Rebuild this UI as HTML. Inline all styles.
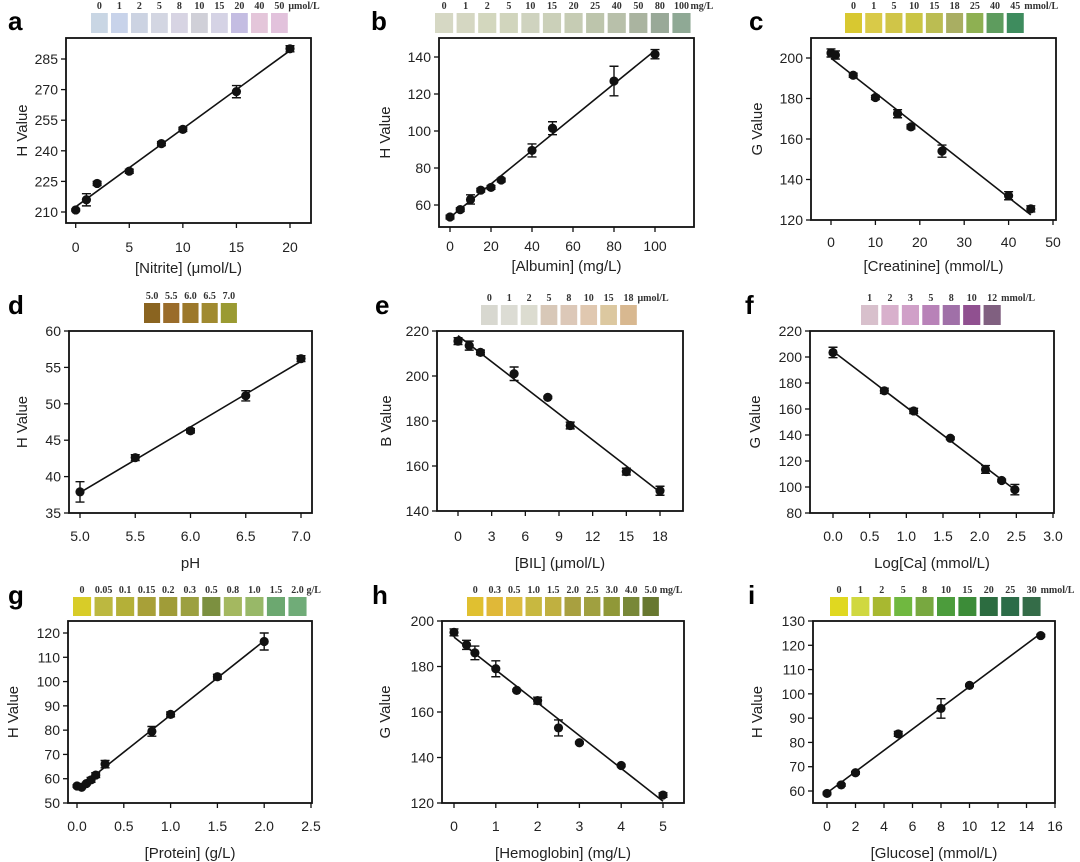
<!DOCTYPE html>
<html><head><meta charset="utf-8"><style>
html,body{margin:0;padding:0;background:#fff;}
svg{display:block;font-family:"Liberation Sans",Arial,sans-serif;}
.tk{font-size:14px;fill:#222;}
.tt{font-size:15px;fill:#222;}
.lt{font-size:26px;font-weight:bold;fill:#000;}
.sl{font-family:"Liberation Serif",serif;font-size:10px;font-weight:bold;fill:#333;}
</style></head><body>
<svg id="fig" width="1080" height="862" viewBox="0 0 1080 862"></svg>
<script>
// ---- data ----
const aX=[0,1,2,5,8,10,15,20];
const aY=[211,216,224,230,243.5,250.5,269,290];
const aE=[0.5,3,1,1,1,1,3,1.5];
const aXT=[0,5,10,15,20];
const aYT=[210,225,240,255,270,285];
const aStrip=["0","1","2","5","8","10","15","20","40","50"];

const bX=[0,5,10,15,20,25,40,50,80,100];
const bY=[53.5,57.5,63,68,69.5,73.5,89.5,101.5,127,141.5];
const bE=[1,1,2.5,1,1,1,3.5,3.5,8,2.5];
const bXT=[0,20,40,60,80,100];
const bYT=[60,80,100,120,140];
const bStrip=["0","1","2","5","10","15","20","25","40","50","80","100"];

const cX=[0,1,5,10,15,18,25,40,45];
const cY=[202.5,201.5,191.5,180.5,172.5,166,154,132,125.5];
const cE=[2,2,1,1,2,1,3,2,1.5];
const cXT=[0,10,20,30,40,50];
const cYT=[120,140,160,180,200];
const cStrip=["0","1","5","10","15","18","25","40","45"];

const dX=[5,5.5,6,6.5,7];
const dY=[37.9,42.6,46.3,51.1,56.2];
const dE=[1.4,0.4,0.3,0.7,0.4];
const dXT=[5,5.5,6,6.5,7];
const dYT=[35,40,45,50,55,60];
const dStrip=["5.0","5.5","6.0","6.5","7.0"];

const eX=[0,1,2,5,8,10,15,18];
const eY=[215.5,213.5,210.5,201,190.5,178,157.5,149];
const eE=[1.5,2,1,3,0.5,1.5,1.5,2];
const eXT=[0,3,6,9,12,15,18];
const eYT=[140,160,180,200,220];
const eStrip=["0","1","2","5","8","10","15","18"];

const fX=[0,0.7,1.1,1.6,2.08,2.3,2.48];
const fY=[203.5,174,158.5,137.5,113.5,105,98];
const fE=[4,2,2,1,3,1,4];
const fXT=[0,0.5,1,1.5,2,2.5,3];
const fYT=[80,100,120,140,160,180,200,220];
const fStrip=["1","2","3","5","8","10","12"];

const gX=[0,0.05,0.1,0.15,0.2,0.3,0.8,1.0,1.5,2.0];
const gY=[57,56.5,58,59.5,61.5,66,79.5,86.5,102,116.5];
const gE=[0.5,0.5,0.5,1,1,1.5,2,1,1,3.5];
const gXT=[0,0.5,1,1.5,2,2.5];
const gYT=[50,60,70,80,90,100,110,120];
const gStrip=["0","0.05","0.1","0.15","0.2","0.3","0.5","0.8","1.0","1.5","2.0"];

const hX=[0,0.3,0.5,1,1.5,2,2.5,3,4,5];
const hY=[195,189.5,186,179,169.5,165,153,146.5,136.5,123.5];
const hE=[1.5,2,3,3.5,0.5,1.5,3.5,0.5,0.5,1];
const hXT=[0,1,2,3,4,5];
const hYT=[120,140,160,180,200];
const hStrip=["0","0.3","0.5","1.0","1.5","2.0","2.5","3.0","4.0","5.0"];

const iX=[0,1,2,5,8,10,15];
const iY=[59,62.5,67.5,83.5,94,103.5,124];
const iE=[0.5,0.5,0.5,1,4,0.5,0.5];
const iXT=[0,2,4,6,8,10,12,14,16];
const iYT=[60,70,80,90,100,110,120,130];
const iStrip=["0","1","2","5","8","10","15","20","25","30"];

// ---- layout ----
const NS="http://www.w3.org/2000/svg";
const svg=document.getElementById('fig');
function mk(tag,attrs,parent){const e=document.createElementNS(NS,tag);for(const k in attrs)e.setAttribute(k,attrs[k]);(parent||svg).appendChild(e);return e;}

const panels=[
 {id:'a',X:aX,Y:aY,E:aE,XT:aXT,YT:aYT,xf:v=>String(v),yf:v=>String(v),box:[66,38,311,223],xd:[0,75.7,20,290],yd:[210,212,285,59],
  xt:'[Nitrite] (\u03bcmol/L)',yt:'H Value',xl:252,xtt:273,ytx:22,lx:8,ly:30,
  strip:aStrip,unit:'\u03bcmol/L',sx0:91,sx1:291,sy:13,sh:20,
  cols:['#c9d6e4','#c8d3ea','#ccd3e2','#d3d6e2','#d7d4e3','#d0d0d8','#d5d3e5','#c4bde2','#e4c6da','#e2c2dc']},
 {id:'b',X:bX,Y:bY,E:bE,XT:bXT,YT:bYT,xf:v=>String(v),yf:v=>String(v),box:[439,38,694,227],xd:[0,450,100,655],yd:[60,205,140,57],
  xt:'[Albumin] (mg/L)',yt:'H Value',xl:251,xtt:271,ytx:385,lx:371,ly:30,
  strip:bStrip,unit:'mg/L',sx0:435,sx1:694,sy:13,sh:20,
  cols:['#d6d8c4','#d5d7c2','#d3d7be','#d1d5bd','#cfd3bf','#cbd0b9','#c6ccb4','#bdc5ac','#b8c0aa','#aab4a0','#99a998','#8fa995']},
 {id:'c',X:cX,Y:cY,E:cE,XT:cXT,YT:cYT,xf:v=>String(v),yf:v=>String(v),box:[811,38,1056,220],xd:[0,831,50,1053],yd:[120,220,200,58],
  xt:'[Creatinine] (mmol/L)',yt:'G Value',xl:247,xtt:271,ytx:757,lx:749,ly:30,
  strip:cStrip,unit:'mmol/L',sx0:845,sx1:1027,sy:13,sh:20,
  cols:['#d8c830','#d9ca48','#d0c548','#cac544','#bbbd52','#a9ae62','#8eb052','#5e9c5e','#3e8c5e']},
 {id:'d',X:dX,Y:dY,E:dE,XT:dXT,YT:dYT,xf:v=>v.toFixed(1),yf:v=>String(v),box:[69,331,312,513],xd:[5,80,7,301],yd:[35,513,60,331],
  xt:'pH',yt:'H Value',xl:541,xtt:568,ytx:22,lx:8,ly:314,
  strip:dStrip,unit:'',sx0:144,sx1:240,sy:303,sh:20,
  cols:['#8a6420','#9a6c2a','#9c782a','#a08a30','#9a9a32']},
 {id:'e',X:eX,Y:eY,E:eE,XT:eXT,YT:eYT,xf:v=>String(v),yf:v=>String(v),box:[437,331,683,511],xd:[0,458,18,660],yd:[140,511,220,331],
  xt:'[BIL] (\u03bcmol/L)',yt:'B Value',xl:541,xtt:568,ytx:386,lx:375,ly:314,
  strip:eStrip,unit:'\u03bcmol/L',sx0:481,sx1:640,sy:305,sh:20,
  cols:['#d8d8d0','#dcdcd4','#dcdcd0','#d8c8b8','#dcc8b8','#e0c8b0','#dcc8a0','#d8b890']},
 {id:'f',X:fX,Y:fY,E:fE,XT:fXT,YT:fYT,xf:v=>v.toFixed(1),yf:v=>String(v),box:[810,331,1054,513],xd:[0,833,3,1053],yd:[80,513,220,331],
  xt:'Log[Ca] (mmol/L)',yt:'G Value',xl:541,xtt:568,ytx:755,lx:745,ly:314,
  strip:fStrip,unit:'mmol/L',sx0:861,sx1:1004,sy:305,sh:20,
  cols:['#d8c0cc','#d8b0cc','#d0a0c8','#b882b8','#a070a8','#905090','#806080']},
 {id:'g',X:gX,Y:gY,E:gE,XT:gXT,YT:gYT,xf:v=>v.toFixed(1),yf:v=>String(v),box:[68,621,312,803],xd:[0,77,2.5,311],yd:[50,803,120,633],
  xt:'[Protein] (g/L)',yt:'H Value',xl:831,xtt:858,ytx:13,lx:8,ly:604,
  strip:gStrip,unit:'g/L',sx0:73,sx1:310,sy:597,sh:19,
  cols:['#d8cc28','#bcb840','#b4b038','#a8a038','#a09c38','#9ca040','#7c9040','#a4b860','#98b868','#6ca870','#70ac78']},
 {id:'h',X:hX,Y:hY,E:hE,XT:hXT,YT:hYT,xf:v=>String(v),yf:v=>String(v),box:[442,621,684,803],xd:[0,454,5,663],yd:[120,803,200,621],
  xt:'[Hemoglobin] (mg/L)',yt:'G Value',xl:831,xtt:858,ytx:385,lx:372,ly:604,
  strip:hStrip,unit:'mg/L',sx0:467,sx1:662,sy:597,sh:19,
  cols:['#e0c030','#e0b838','#dcbc40','#c8b840','#c0b040','#a8a040','#a0a040','#909838','#788838','#687830']},
 {id:'i',X:iX,Y:iY,E:iE,XT:iXT,YT:iYT,xf:v=>String(v),yf:v=>String(v),box:[813,621,1055,803],xd:[0,827,16,1055],yd:[60,791,130,621],
  xt:'[Glucose] (mmol/L)',yt:'H Value',xl:831,xtt:858,ytx:757,lx:748,ly:604,
  strip:iStrip,unit:'mmol/L',sx0:830,sx1:1044,sy:597,sh:19,
  cols:['#e0d820','#d0d840','#a8b830','#70b840','#78a840','#4c9c3c','#3c8c38','#2c6c40','#2c6c48','#346c48']}
];

panels.forEach(p=>{
  const g=mk('g',{});
  
  
  const sx=v=>p.xd[1]+(v-p.xd[0])*(p.xd[3]-p.xd[1])/(p.xd[2]-p.xd[0]);
  const sy=v=>p.yd[1]+(v-p.yd[0])*(p.yd[3]-p.yd[1])/(p.yd[2]-p.yd[0]);
  const [x0,y0,x1,y1]=p.box;
  // letter
  const L=mk('text',{x:p.lx,y:p.ly,class:'lt'},g);L.textContent=p.id;
  
  
  // strip
  const n=p.strip.length,pitch=(p.sx1-p.sx0)/n,w=pitch*0.84;
  p.strip.forEach((s,k)=>{
    const r=mk('rect',{x:p.sx0+k*pitch,y:p.sy,width:w,height:p.sh,fill:p.cols[k]},g);
    
    
    const t=mk('text',{x:p.sx0+k*pitch+w/2,y:p.sy-4,class:'sl','text-anchor':'middle'},g);t.textContent=s;
    
    
  });
  if(p.unit){const u=mk('text',{x:p.sx0+(n-1)*pitch+w/2+9,y:p.sy-4,class:'sl'},g);u.textContent=p.unit;
    
    }
  // box
  const b=mk('rect',{x:x0,y:y0,width:x1-x0,height:y1-y0,fill:'none',stroke:'#111','stroke-width':1.8},g);
  
  
  // ticks
  p.XT.forEach(v=>{const X=sx(v);mk('line',{x1:X,x2:X,y1:y1,y2:y1+5,stroke:'#111','stroke-width':1.3},g);
    const t=mk('text',{x:X,y:p.xl,class:'tk','text-anchor':'middle'},g);t.textContent=p.xf(v);
    
    });
  p.YT.forEach(v=>{const Y=sy(v);mk('line',{x1:x0-5,x2:x0,y1:Y,y2:Y,stroke:'#111','stroke-width':1.3},g);
    const t=mk('text',{x:x0-8,y:Y+5,class:'tk','text-anchor':'end'},g);t.textContent=p.yf(v);
    
    });
  const xt=mk('text',{x:(x0+x1)/2,y:p.xtt,class:'tt','text-anchor':'middle'},g);xt.textContent=p.xt;
  
  
  const cy=(y0+y1)/2;
  const yt=mk('text',{x:p.ytx,y:cy,class:'tt','text-anchor':'middle',transform:`rotate(-90 ${p.ytx} ${cy}) translate(0 5)`},g);yt.textContent=p.yt;
  
  
  // fit line (least squares)
  const m=p.X.length,mx=p.X.reduce((a,c)=>a+c,0)/m,my=p.Y.reduce((a,c)=>a+c,0)/m;
  let sxy=0,sxx=0;p.X.forEach((x,k)=>{sxy+=(x-mx)*(p.Y[k]-my);sxx+=(x-mx)*(x-mx);});
  const sl=sxy/sxx,ic=my-sl*mx,xa=Math.min(...p.X),xb=Math.max(...p.X);
  const fl=mk('line',{x1:sx(xa),y1:sy(ic+sl*xa),x2:sx(xb),y2:sy(ic+sl*xb),stroke:'#111','stroke-width':1.6},g);
  
  
  // points
  p.X.forEach((x,k)=>{
    const X=sx(x),Yt=sy(p.Y[k]+p.E[k]),Yb=sy(p.Y[k]-p.E[k]);
    const eb=mk('path',{d:`M${X},${Yt}V${Yb}M${X-4.5},${Yt}H${X+4.5}M${X-4.5},${Yb}H${X+4.5}`,stroke:'#111','stroke-width':1.4,fill:'none'},g);
    
    
    const c=mk('circle',{cx:X,cy:sy(p.Y[k]),r:4.6,fill:'#111'},g);
    
    
  });
});
</script>
</body></html>
